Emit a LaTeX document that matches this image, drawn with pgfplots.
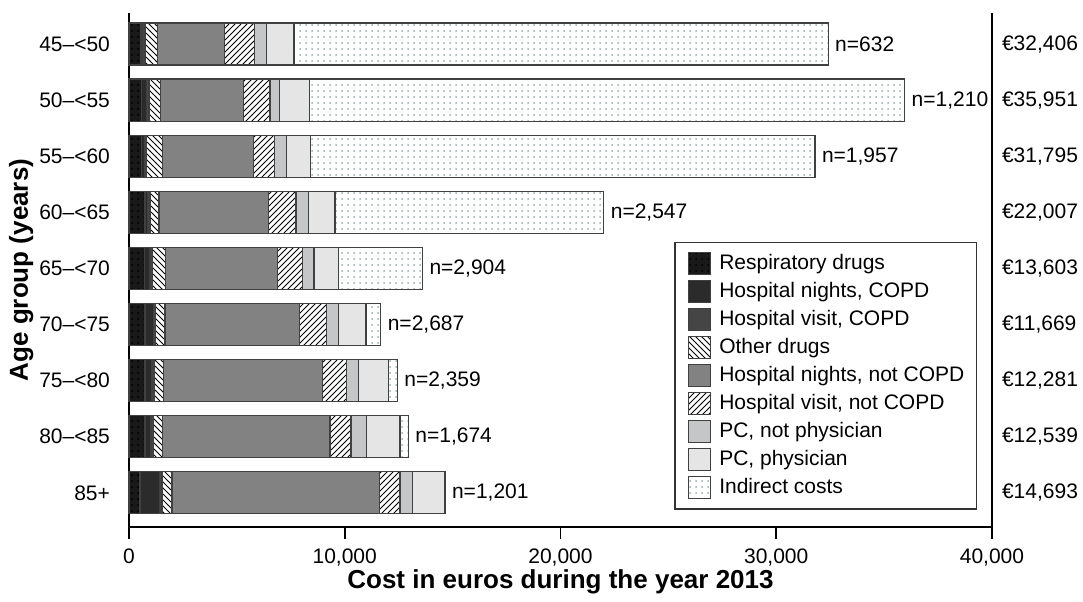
\documentclass[border=0pt]{standalone}
\usepackage{fontspec}
\setmainfont{Liberation Sans}
\usepackage{pgfplots}
\pgfplotsset{compat=1.18}
\usepackage{pgfplotstable}
\usetikzlibrary{patterns}

\definecolor{cresp}{gray}{0.10}
\definecolor{chn}{gray}{0.17}
\definecolor{chv}{gray}{0.27}
\definecolor{chnn}{gray}{0.51}
\definecolor{cpcnp}{RGB}{196,198,200}
\definecolor{cpcp}{gray}{0.90}
\definecolor{cdot}{RGB}{150,170,170}
\definecolor{cedge}{gray}{0.25}

\tikzset{lab/.style={anchor=west, font=\fontsize{10.5}{12}\selectfont},
         eur/.style={anchor=west, font=\fontsize{10.5}{12}\selectfont, xshift=1.5pt}}

\pgfplotstableread{
y resp hn hv od hnn hvn pcnp pcp ind
0 556 80 105 572 3106 1390 572 1267 24758
1 587 220 120 541 3831 1236 433 1390 27593
2 587 117 115 726 4218 989 556 1112 23375
3 742 116 115 417 5084 1266 572 1236 12459
4 711 263 123 587 5191 1174 526 1143 3885
5 742 380 114 433 6226 1267 556 1267 684
6 742 320 112 417 7370 1128 556 1391 400
7 742 280 106 417 7771 974 726 1545 386
8 510 896 124 463 9610 958 572 1514 0
}\costs

\begin{document}
\begin{tikzpicture}
\useasboundingbox (-64.5pt,-37pt) rectangle (477pt,263.5pt);
\begin{axis}[
  scale only axis,
  width=431.5pt, height=257pt,
  xbar stacked,
  bar width=0.75,
  y dir=reverse,
  xmin=0, xmax=40000,
  ymin=-0.553, ymax=8.61,
  enlargelimits=false,
  clip=false,
  axis lines*=left,
  axis line style={line width=0.9pt, black},
  xtick={0,10000,20000,30000,40000},
  tick align=outside,
  major tick length=6pt,
  xtick style={line width=0.9pt, black},
  ytick={0,...,8},
  yticklabels={45–<50,50–<55,55–<60,60–<65,65–<70,70–<75,75–<80,80–<85,85+},
  ytick style={draw=none},
  tick label style={font=\fontsize{10.5}{12}\selectfont},
  xticklabel style={/pgf/number format/1000 sep={,}, /pgf/number format/assume math mode=true, yshift=-1.5pt},
  scaled x ticks=false,
  xlabel={Cost in euros during the year 2013},
  ylabel={Age group (years)},
  every axis x label/.style={at={(rel axis cs:0.5,-0.106)}, anchor=center, font=\bfseries\fontsize{13}{15}\selectfont},
  every axis y label/.style={at={(rel axis cs:-0.125,0.5)}, anchor=center, rotate=90, font=\bfseries\fontsize{13}{15}\selectfont},
  every axis plot/.append style={draw=cedge, line width=0.6pt},
  legend cell align=left,
  legend image code/.code={\path (-2.5pt,0pt) (13pt,0pt); \draw[#1] (0pt,-5.5pt) rectangle (11pt,5.5pt);},
  legend style={at={(0.9826,0.5545)}, anchor=north east, draw=black!80, line width=0.6pt,
    font=\fontsize{10.5}{12}\selectfont, inner xsep=4pt, inner ysep=4pt, row sep=0.9pt},
]
\addplot[fill=cresp, postaction={pattern=dots, pattern color=black}] table[x=resp,y=y]{\costs};
\addlegendentry{Respiratory drugs}
\addplot[fill=chn] table[x=hn,y=y]{\costs};
\addlegendentry{Hospital nights, COPD}
\addplot[fill=chv] table[x=hv,y=y]{\costs};
\addlegendentry{Hospital visit, COPD}
\addplot[fill=white, postaction={pattern=north west lines}] table[x=od,y=y]{\costs};
\addlegendentry{Other drugs}
\addplot[fill=chnn] table[x=hnn,y=y]{\costs};
\addlegendentry{Hospital nights, not COPD}
\addplot[fill=white, postaction={pattern=north east lines}] table[x=hvn,y=y]{\costs};
\addlegendentry{Hospital visit, not COPD}
\addplot[fill=cpcnp] table[x=pcnp,y=y]{\costs};
\addlegendentry{PC, not physician}
\addplot[fill=cpcp] table[x=pcp,y=y]{\costs};
\addlegendentry{PC, physician}
\addplot[fill=white, postaction={pattern=dots, pattern color=cdot}] table[x=ind,y=y]{\costs};
\addlegendentry{Indirect costs}
\draw[line width=0.9pt, black] (rel axis cs:1,0) -- (rel axis cs:1,1);
\node[lab] at (axis cs:32406,0) {n=632};
\node[lab] at (axis cs:35951,1) {n=1,210};
\node[lab] at (axis cs:31795,2) {n=1,957};
\node[lab] at (axis cs:22007,3) {n=2,547};
\node[lab] at (axis cs:13603,4) {n=2,904};
\node[lab] at (axis cs:11669,5) {n=2,687};
\node[lab] at (axis cs:12436,6) {n=2,359};
\node[lab] at (axis cs:12947,7) {n=1,674};
\node[lab] at (axis cs:14647,8) {n=1,201};
\node[eur] at (axis cs:40000,0) {€32,406};
\node[eur] at (axis cs:40000,1) {€35,951};
\node[eur] at (axis cs:40000,2) {€31,795};
\node[eur] at (axis cs:40000,3) {€22,007};
\node[eur] at (axis cs:40000,4) {€13,603};
\node[eur] at (axis cs:40000,5) {€11,669};
\node[eur] at (axis cs:40000,6) {€12,281};
\node[eur] at (axis cs:40000,7) {€12,539};
\node[eur] at (axis cs:40000,8) {€14,693};
\end{axis}
\end{tikzpicture}
\end{document}
